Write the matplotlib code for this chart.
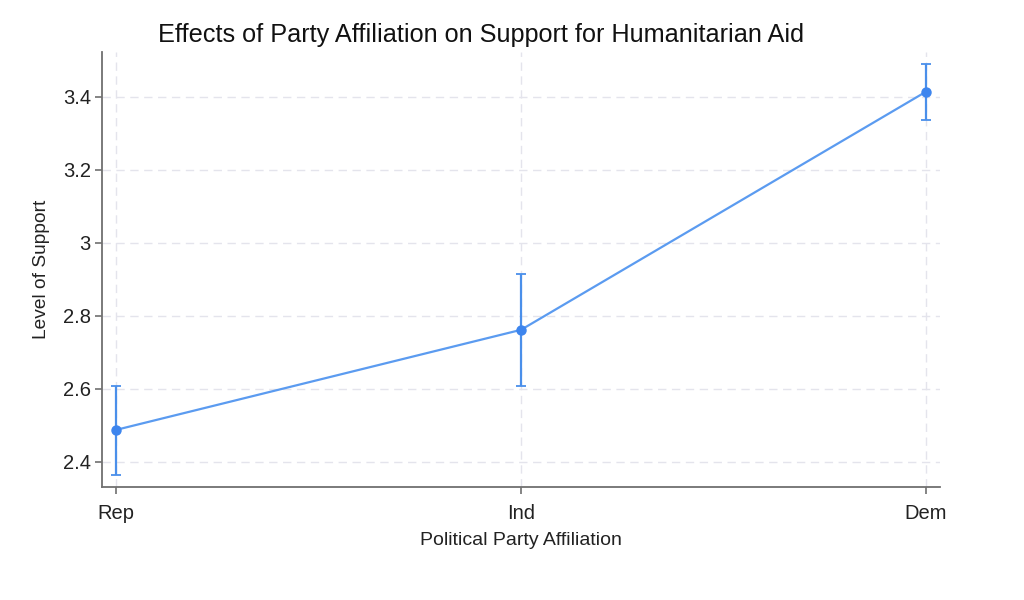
import matplotlib
matplotlib.use("Agg")
import matplotlib.pyplot as plt
import numpy as np

categories = ["Rep", "Ind", "Dem"]
means = [2.488, 2.762, 3.414]
ci_low = [2.364, 2.608, 3.337]
ci_high = [2.608, 2.915, 3.490]
yticks = [2.4, 2.6, 2.8, 3.0, 3.2, 3.4]
ytick_labels = ["2.4", "2.6", "2.8", "3", "3.2", "3.4"]

plt.rcParams['font.family'] = ['Liberation Sans', 'DejaVu Sans']

fig = plt.figure(figsize=(10.24, 6.0), dpi=100)
ax = fig.add_axes([102/1024, 1-487/600, (940-102)/1024, (487-52)/600])

x = np.arange(len(categories))
means_a = np.array(means)
err = [means_a - np.array(ci_low), np.array(ci_high) - means_a]

ax.plot(x, means, color='#5B9BF0', lw=1.6, zorder=3)
ax.errorbar(x, means, yerr=err, fmt='o', color='#3D85EE', ecolor='#4A8FEA',
            elinewidth=1.6, capsize=3.5, capthick=1.3, markersize=6.5, zorder=4)

ax.set_xlim(-0.035, 2.035)
ax.set_ylim(2.3315, 3.523)
ax.set_xticks(x)
ax.set_xticklabels(categories, fontsize=14.5)
ax.set_yticks(yticks)
ax.set_yticklabels(ytick_labels, fontsize=14.5)

ax.grid(True, color='#E4E4EC', linestyle=(0, (6, 4)), linewidth=1.0, zorder=0)
ax.set_axisbelow(True)

for s in ['top', 'right']:
    ax.spines[s].set_visible(False)
for s in ['left', 'bottom']:
    ax.spines[s].set_color('#707070')
    ax.spines[s].set_linewidth(1.3)
ax.tick_params(axis='both', colors='#707070', length=5, width=1.2, labelcolor='#222222')
ax.tick_params(axis='x', pad=7.5)
ax.tick_params(axis='y', pad=3)

ax.set_xlabel("Political Party Affiliation", fontsize=14, color='#222222', labelpad=6)
ax.set_ylabel("Level of Support", fontsize=13.8, color='#222222', labelpad=9)
fig.text(481/1024, 1-35/600, "Effects of Party Affiliation on Support for Humanitarian Aid",
         ha='center', va='center', fontsize=18.2, color='#111111')

fig.savefig("out.png", dpi=100, facecolor='white')
